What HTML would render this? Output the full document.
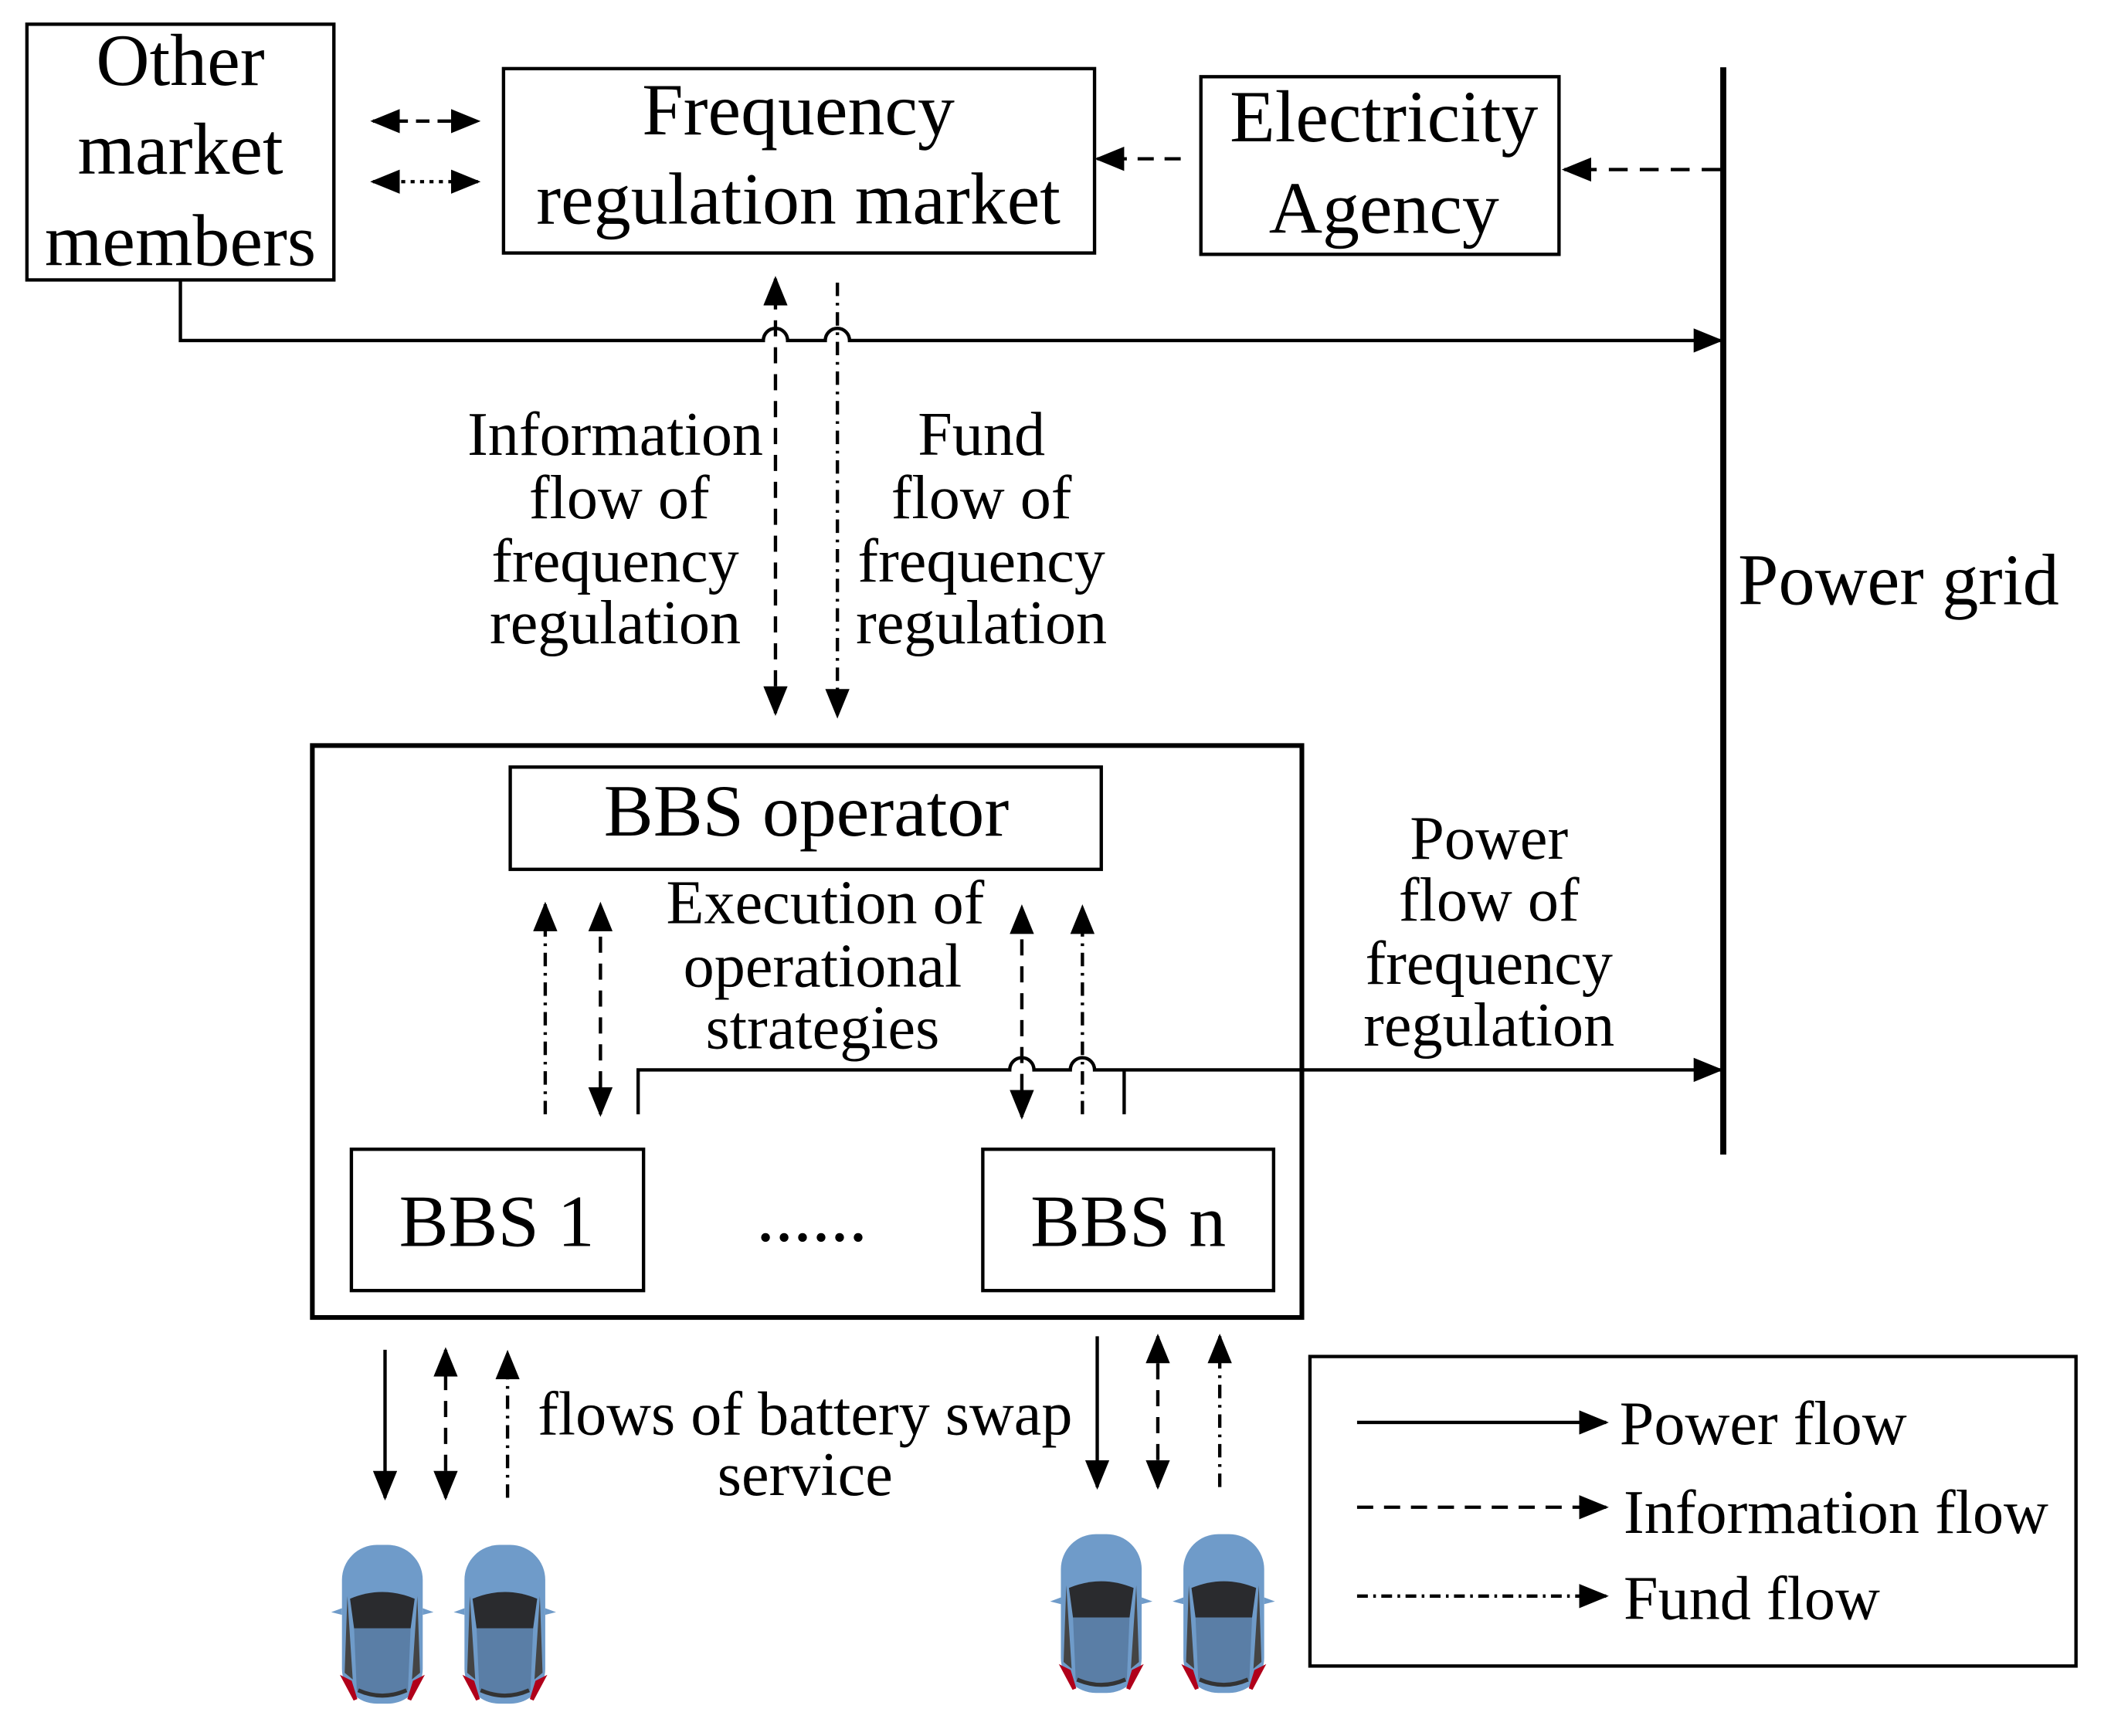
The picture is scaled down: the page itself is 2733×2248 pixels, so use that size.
<!DOCTYPE html>
<html><head><meta charset="utf-8"><style>html,body{margin:0;padding:0;background:#fff}svg{display:block}text{font-family:"Liberation Serif",serif;fill:#000}</style></head><body>
<svg width="2733" height="2248" viewBox="0 0 1568 1290" preserveAspectRatio="none" xmlns="http://www.w3.org/2000/svg">
<defs>
<marker id="A" markerWidth="22" markerHeight="18" refX="20" refY="9" orient="auto" markerUnits="userSpaceOnUse"><path d="M0,0L22,9L0,18z" fill="#000"/></marker>
<marker id="S" markerWidth="22" markerHeight="18" refX="2" refY="9" orient="auto" markerUnits="userSpaceOnUse"><path d="M22,0L0,9L22,18z" fill="#000"/></marker>
<g id="car">
<rect x="-30" y="0" width="60" height="118" rx="26" fill="#6f9bc9"/>
<path d="M-24,40 Q0,30 24,40 L21,62 L-21,62z" fill="#2a2b2e"/>
<path d="M-21,62 L21,62 L19,108 Q0,114 -19,108z" fill="#5a7ea6"/>
<path d="M-26,38 L-22,100 L-28,95z M26,38 L22,100 L28,95z" fill="#444"/>
<path d="M-28,100 L-20,115 L-24,102z M28,100 L20,115 L24,102z" fill="#b0001a" stroke="#b0001a" stroke-width="3"/>
<path d="M-18,108 Q0,116 18,108" stroke="#333" stroke-width="3" fill="none"/>
<path d="M-30,47 L-38,50 L-30,52z M30,47 L38,50 L30,52z" fill="#6f9bc9"/>
</g>
</defs>
<g fill="none" stroke="#000" stroke-width="2.5">
<rect x="20" y="18" width="228" height="190"/>
<rect x="374" y="51" width="439" height="137"/>
<rect x="892" y="57" width="266" height="132"/>
<rect x="232" y="554" width="735" height="425" stroke-width="3.5"/>
<rect x="379" y="570" width="439" height="76"/>
<rect x="261" y="854" width="217" height="105"/>
<rect x="730" y="854" width="216" height="105"/>
<rect x="973" y="1008" width="569" height="230"/>
<line x1="1280" y1="50" x2="1280" y2="858" stroke-width="4.5"/>
<line x1="277" y1="90" x2="355" y2="90" stroke-dasharray="10,6" marker-start="url(#S)" marker-end="url(#A)"/>
<line x1="277" y1="135" x2="355" y2="135" stroke-dasharray="3,4" marker-start="url(#S)" marker-end="url(#A)"/>
<line x1="877" y1="118" x2="815" y2="118" stroke-dasharray="12,8" marker-end="url(#A)"/>
<line x1="1278" y1="126" x2="1162" y2="126" stroke-dasharray="14,9" marker-end="url(#A)"/>
<path d="M134,208 V253 H567 A9,9 0 0 1 585,253 H613 A9,9 0 0 1 631,253 H1278" marker-end="url(#A)"/>
<line x1="576" y1="530" x2="576" y2="207" stroke-dasharray="12,8" marker-start="url(#S)" marker-end="url(#A)"/>
<line x1="622" y1="210" x2="622" y2="532" stroke-dasharray="10,5,2,5" marker-end="url(#A)"/>
<line x1="405" y1="828" x2="405" y2="672" stroke-dasharray="10,5,2,5" marker-end="url(#A)"/>
<line x1="446" y1="828" x2="446" y2="672" stroke-dasharray="12,8" marker-start="url(#S)" marker-end="url(#A)"/>
<line x1="759" y1="830" x2="759" y2="674" stroke-dasharray="12,8" marker-start="url(#S)" marker-end="url(#A)"/>
<line x1="804" y1="828" x2="804" y2="674" stroke-dasharray="10,5,2,5" marker-end="url(#A)"/>
<path d="M474,828 V795 H750 A9,9 0 0 1 768,795 H795 A9,9 0 0 1 813,795 H1278" marker-end="url(#A)"/>
<line x1="835" y1="795" x2="835" y2="828"/>
<line x1="286" y1="1003" x2="286" y2="1113" marker-end="url(#A)"/>
<line x1="331" y1="1113" x2="331" y2="1003" stroke-dasharray="12,8" marker-start="url(#S)" marker-end="url(#A)"/>
<line x1="377" y1="1113" x2="377" y2="1005" stroke-dasharray="10,5,2,5" marker-end="url(#A)"/>
<line x1="815" y1="993" x2="815" y2="1105" marker-end="url(#A)"/>
<line x1="860" y1="1105" x2="860" y2="993" stroke-dasharray="12,8" marker-start="url(#S)" marker-end="url(#A)"/>
<line x1="906" y1="1105" x2="906" y2="993" stroke-dasharray="10,5,2,5" marker-end="url(#A)"/>
<line x1="1008" y1="1057" x2="1193" y2="1057" marker-end="url(#A)"/>
<line x1="1008" y1="1120" x2="1193" y2="1120" stroke-dasharray="12,8" marker-end="url(#A)"/>
<line x1="1008" y1="1186" x2="1193" y2="1186" stroke-dasharray="8,4,2,4" marker-end="url(#A)"/>
</g>
<g text-anchor="middle" font-size="55">
<text x="134" y="63">Other</text><text x="134" y="129">market</text><text x="134" y="197">members</text>
<text x="593" y="100">Frequency</text><text x="593" y="166">regulation market</text>
<text x="1028" y="105">Electricity</text><text x="1028" y="173">Agency</text>
<text x="599" y="621">BBS operator</text>
<text x="369" y="926">BBS 1</text><text x="838" y="926">BBS n</text>
<text x="603" y="922">......</text>
</g>
<text x="1291" y="449" font-size="54">Power grid</text>
<g text-anchor="middle" font-size="46">
<text x="457" y="338">Information</text><text x="460" y="385">flow of</text><text x="457" y="432">frequency</text><text x="457" y="478">regulation</text>
<text x="729" y="338">Fund</text><text x="729" y="385">flow  of</text><text x="729" y="432">frequency</text><text x="729" y="478">regulation</text>
<text x="613" y="686">Execution of</text><text x="611" y="733">operational</text><text x="611" y="779">strategies</text>
<text x="1106" y="638">Power</text><text x="1106" y="684">flow  of</text><text x="1106" y="731">frequency</text><text x="1106" y="777">regulation</text>
<text x="598" y="1066">flows of battery swap</text><text x="598" y="1111">service</text>
</g>
<g font-size="46">
<text x="1203" y="1073">Power flow</text><text x="1206" y="1139">Information flow</text><text x="1206" y="1203">Fund flow</text>
</g>
<use href="#car" x="284" y="1148"/><use href="#car" x="375" y="1148"/>
<use href="#car" x="818" y="1140"/><use href="#car" x="909" y="1140"/>
</svg>
</body></html>
